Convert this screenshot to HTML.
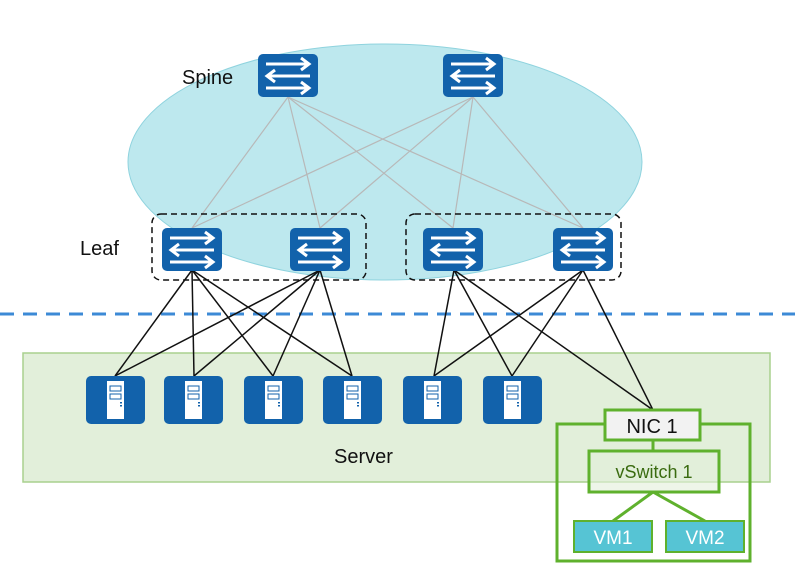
<!DOCTYPE html>
<html><head><meta charset="utf-8"><style>body{margin:0;background:#fff}svg{display:block}</style></head><body>
<svg width="795" height="581" viewBox="0 0 795 581" xmlns="http://www.w3.org/2000/svg" font-family="Liberation Sans, sans-serif">
<defs>
<g id="sw">
<rect x="0" y="0" width="60" height="43" rx="5" fill="#1262ab"/>
<g stroke="#fff" stroke-width="3" fill="none">
<line x1="8" y1="10" x2="50" y2="10"/><polyline points="43,4 51,10 43,16"/>
<line x1="10" y1="22" x2="52" y2="22"/><polyline points="17,16 9,22 17,28"/>
<line x1="8" y1="34" x2="50" y2="34"/><polyline points="43,28 51,34 43,40"/>
</g>
</g>
<g id="sv">
<rect x="0" y="0" width="59" height="48" rx="5" fill="#1262ab"/>
<rect x="21" y="5" width="17" height="38" fill="#fff"/>
<rect x="24" y="10" width="11" height="5" fill="#fff" stroke="#1262ab" stroke-width="1"/>
<rect x="24" y="18" width="11" height="5" fill="#fff" stroke="#1262ab" stroke-width="1"/>
<rect x="34" y="26" width="2" height="1.5" fill="#1262ab"/><rect x="34" y="29" width="2" height="1.5" fill="#1262ab"/>
</g>
</defs>
<ellipse cx="385" cy="162" rx="257" ry="118" fill="#bde8ee" stroke="#8fd3de" stroke-width="1"/>
<rect x="23" y="353" width="747" height="129" fill="#e2efda" stroke="#a9d18e" stroke-width="1.5"/>
<line x1="0" y1="314" x2="795" y2="314" stroke="#3c8ad6" stroke-width="3" stroke-dasharray="14,9"/>
<g stroke="#b8b8b8" stroke-width="1.2">
<line x1="288" y1="97" x2="192" y2="228"/><line x1="288" y1="97" x2="320" y2="228"/><line x1="288" y1="97" x2="453" y2="228"/><line x1="288" y1="97" x2="583" y2="228"/>
<line x1="473" y1="97" x2="192" y2="228"/><line x1="473" y1="97" x2="320" y2="228"/><line x1="473" y1="97" x2="453" y2="228"/><line x1="473" y1="97" x2="583" y2="228"/>
</g>
<g stroke="#111" stroke-width="1.5">
<line x1="192" y1="270" x2="115" y2="376"/><line x1="192" y1="270" x2="194" y2="376"/><line x1="192" y1="270" x2="273" y2="376"/><line x1="192" y1="270" x2="352" y2="376"/>
<line x1="320" y1="270" x2="115" y2="376"/><line x1="320" y1="270" x2="194" y2="376"/><line x1="320" y1="270" x2="273" y2="376"/><line x1="320" y1="270" x2="352" y2="376"/>
<line x1="454" y1="270" x2="434" y2="376"/><line x1="454" y1="270" x2="512" y2="376"/><line x1="454" y1="270" x2="653" y2="410"/>
<line x1="583" y1="270" x2="434" y2="376"/><line x1="583" y1="270" x2="512" y2="376"/><line x1="583" y1="270" x2="653" y2="410"/>
</g>
<rect x="152" y="214" width="214" height="66" rx="9" fill="none" stroke="#111" stroke-width="1.5" stroke-dasharray="6,4"/>
<rect x="406" y="214" width="215" height="66" rx="9" fill="none" stroke="#111" stroke-width="1.5" stroke-dasharray="6,4"/>
<use href="#sw" x="258" y="54"/><use href="#sw" x="443" y="54"/>
<use href="#sw" x="162" y="228"/><use href="#sw" x="290" y="228"/><use href="#sw" x="423" y="228"/><use href="#sw" x="553" y="228"/>
<use href="#sv" x="86" y="376"/><use href="#sv" x="164" y="376"/><use href="#sv" x="244" y="376"/><use href="#sv" x="323" y="376"/><use href="#sv" x="403" y="376"/><use href="#sv" x="483" y="376"/>
<text x="182" y="84" font-size="20" fill="#111">Spine</text>
<text x="80" y="255" font-size="20" fill="#111">Leaf</text>
<text x="334" y="463" font-size="20" fill="#111">Server</text>
<g stroke="#5fb12d" stroke-width="3" fill="none">
<rect x="557" y="424" width="193" height="137"/>
<line x1="653" y1="440" x2="653" y2="451"/>
<line x1="653" y1="492" x2="613" y2="521"/><line x1="653" y1="492" x2="705" y2="521"/>
</g>
<rect x="605" y="410" width="95" height="30" fill="#f2f2f2" stroke="#5fb12d" stroke-width="3"/>
<rect x="589" y="451" width="130" height="41" fill="#e2efda" fill-opacity="0.6" stroke="#5fb12d" stroke-width="3"/>
<rect x="574" y="521" width="78" height="31" fill="#56c4d4" stroke="#5fb12d" stroke-width="2"/>
<rect x="666" y="521" width="78" height="31" fill="#56c4d4" stroke="#5fb12d" stroke-width="2"/>
<text x="652" y="433" font-size="20" fill="#111" text-anchor="middle">NIC 1</text>
<text x="654" y="478" font-size="18" fill="#3a6b10" text-anchor="middle">vSwitch 1</text>
<text x="613" y="544" font-size="19" fill="#fff" text-anchor="middle">VM1</text>
<text x="705" y="544" font-size="19" fill="#fff" text-anchor="middle">VM2</text>
</svg>
</body></html>
